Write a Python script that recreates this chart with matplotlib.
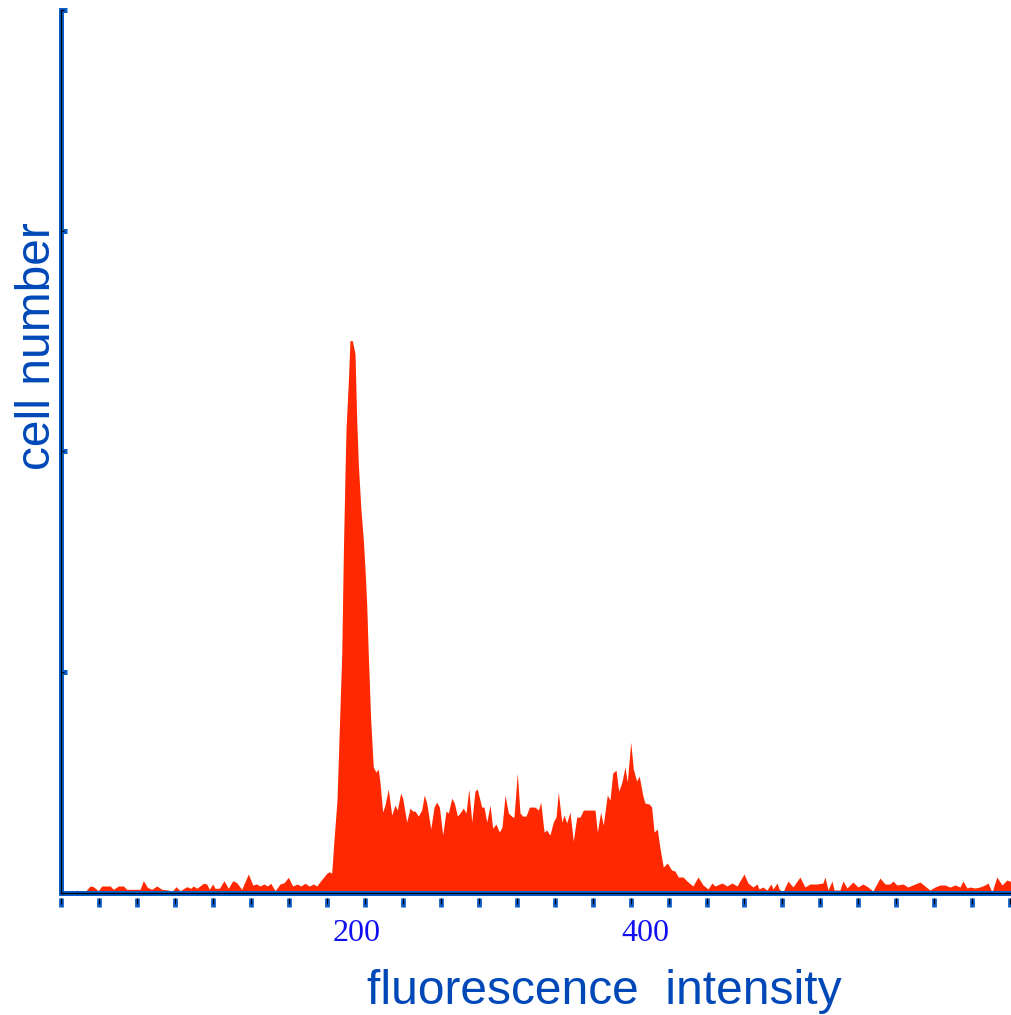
import numpy as np
import matplotlib
matplotlib.use("Agg")
import matplotlib.pyplot as plt

# ---------------- data ----------------
intensity = [
    -4.0, 4.2, 5.3, 7.6, 11.1, 14.6, 16.9, 20.3, 22.7, 28.5, 30.8, 34.2, 37.7, 40.1,
    49.3, 51.6, 54.4, 57.4, 60.9, 64.4, 69.0, 71.3, 74.3, 77.1, 81.7, 84.5, 86.3, 88.7,
    93.3, 95.6, 97.4, 99.8, 101.4, 104.4, 107.6, 110.6, 113.7, 116.5, 119.9, 124.5,
    127.6, 130.3, 132.6, 135.4, 137.7, 140.1, 143.1, 146.5, 149.3, 152.3, 155.3, 158.5,
    160.9, 163.9, 166.9, 169.7, 172.0, 174.8, 179.0, 180.8, 182.4,
    184.0, 186.1, 189.4, 190.5, 191.7, 192.4, 194.0, 195.1, 196.7, 198.6, 199.8, 200.9,
    202.6, 204.4, 205.6, 206.7, 207.8, 209.5, 211.3, 213.2, 214.8, 216.0, 217.8, 219.4,
    221.7, 224.1, 226.4, 228.0, 230.3, 231.7, 234.5, 236.8, 238.7, 240.3, 242.6, 244.9,
    246.7, 248.4, 251.2, 253.5, 255.3, 257.2, 259.5, 261.8, 263.4, 265.8, 267.6, 269.7,
    271.5, 273.8, 275.7, 277.6, 279.7, 281.9, 283.5, 286.6, 288.2, 290.1, 292.4, 294.2,
    296.5, 298.8, 300.7, 302.8, 305.1, 308.1, 309.0, 311.3, 313.2, 315.1, 317.4, 319.7,
    323.6, 326.0, 327.6, 329.9, 331.7, 334.0, 336.3, 338.2, 339.8, 342.2, 343.8, 345.6,
    347.9, 350.2, 352.6, 354.9, 357.2, 365.3, 366.9, 369.2, 371.0, 373.8, 375.7, 377.6,
    379.9, 381.7, 383.8, 386.1, 387.7, 390.1, 391.9, 394.2, 396.0, 398.4, 400.0, 403.0,
    404.6, 406.3, 408.5, 410.4, 412.7, 415.5, 418.5, 420.8, 423.1,
    426.4, 429.9, 433.3, 436.8, 440.3, 443.8, 446.5, 448.6, 453.5, 457.0, 460.4, 463.9,
    468.8, 471.5, 475.0, 477.8, 479.2, 481.9, 484.7, 487.5, 488.9, 491.7, 493.1, 495.8,
    499.3, 502.8, 507.6, 511.1, 514.6, 519.4, 523.6, 525.0, 527.1, 529.9, 531.3, 535.4,
    537.5, 540.3, 544.4, 547.9, 551.4, 554.9, 558.3, 563.2, 566.7, 570.1, 572.2, 575.0,
    579.2, 582.6, 587.5, 591.0, 594.4, 597.9, 601.4, 604.9, 608.3, 611.8, 615.3, 618.8,
    620.8, 623.6, 625.7, 629.2, 632.6, 636.1, 638.2, 641.0, 644.4, 647.9, 651.4, 654.9,
]
cell_number = [
    1.3, 1.3, 3, 1.3, 1.3, 7, 6.3, 2.3, 7, 7, 3.7, 7, 7, 3.7,
    3.7, 12.3, 5.7, 3.7, 7, 3.7, 3, 1.3, 6.3, 2.3, 6.3, 4.7, 7, 4.7,
    9.7, 9, 3.7, 9, 4.7, 4.7, 12.3, 4.7, 12.3, 10.3, 3.7, 19,
    8, 9, 7, 9, 7, 9.7, 2.3, 9, 10.3, 15.7, 7, 9,
    7, 9.7, 7, 9, 7, 12.3, 19.7, 21.3, 19.7,
    53, 93, 240, 340, 423, 466, 513, 553, 553, 540, 473, 430,
    386, 353, 323, 290, 240, 173, 126, 121, 124, 110, 81, 88,
    104, 78, 88, 83, 100, 95, 71, 85, 82, 82, 77, 83,
    98, 90, 64, 86, 91, 86, 58, 82, 80, 95, 90, 77,
    80, 85, 80, 104, 71, 102, 104, 86, 86, 71, 88, 65,
    69, 61, 66, 98, 80, 76, 76, 120, 80, 77, 77, 86,
    86, 83, 91, 61, 63, 58, 71, 76, 101, 71, 78, 70,
    81, 52, 76, 76, 83, 83, 61, 81, 68, 98, 93, 120,
    123, 102, 110, 126, 111, 151, 124, 112, 117, 98, 90, 89,
    86, 61, 64, 45, 26, 30, 23, 22, 16,
    16, 11, 7, 16, 8, 4, 10, 7, 10, 7, 10, 7,
    19, 10, 6, 9, 4, 6, 3, 9, 4, 10, 4, 1,
    12, 6, 16, 6, 9, 9, 10, 16, 3, 12, 3, 3,
    12, 5, 11, 6, 9, 6, 2, 15, 9, 9, 12, 8,
    9, 6, 9, 11, 7, 3, 6, 8, 8, 6, 8, 6,
    12, 5, 6, 5, 6, 8, 10, 1, 16, 8, 13, 11,
]
tick_values = [200, 400]
tick_labels = ["200", "400"]
x_label = "fluorescence  intensity"
y_label = "cell number"

# ---------------- styling ----------------
W, H, DPI = 1012, 1015, 100
SPINE_BLUE = "#0a5cc6"
TEXT_BLUE = "#0048b8"
TICK_TEXT_BLUE = "#1010f0"
FILL_RED = "#ff2800"

xlim = (-5.6, 654.9)
ylim = (0, 884)

fig = plt.figure(figsize=(W / DPI, H / DPI), dpi=DPI)
fig.patch.set_facecolor("white")

pos = [61 / W, (H - 893) / H, (W - 61) / W, 883 / H]
ax = fig.add_axes(pos)
ax.fill_between(intensity, cell_number, 0, color=FILL_RED, lw=0)
ax.set_xlim(*xlim)
ax.set_ylim(*ylim)

for s in ("top", "right"):
    ax.spines[s].set_visible(False)
for s in ("left", "bottom"):
    ax.spines[s].set_color(SPINE_BLUE)
    ax.spines[s].set_linewidth(3.6)
    ax.spines[s].set_zorder(3)

ax.set_yticks(np.linspace(ylim[0], ylim[1], 5))
ax.tick_params(axis="y", direction="in", length=4.3, width=3.6,
               color=SPINE_BLUE, labelleft=False)
ax.set_xticks(tick_values)
ax.set_xticklabels(tick_labels)
ax.tick_params(axis="x", length=0, pad=19, labelsize=23,
               labelcolor=TICK_TEXT_BLUE)
for t in ax.get_xticklabels():
    t.set_fontfamily("Liberation Serif")

# black core lines of the axes
axk = fig.add_axes(pos, zorder=5)
axk.set_xlim(*xlim)
axk.set_ylim(*ylim)
axk.patch.set_visible(False)
for s in ("top", "right"):
    axk.spines[s].set_visible(False)
for s in ("left", "bottom"):
    axk.spines[s].set_color("black")
    axk.spines[s].set_linewidth(0.9)
axk.set_yticks(np.linspace(ylim[0], ylim[1], 5))
axk.tick_params(axis="y", direction="in", length=2.3, width=0.9,
                color="black", labelleft=False)
axk.set_xticks([])

# small tick marks below the axis (slightly detached)
minor_pos = np.linspace(xlim[0], 653.7, 26)
post = [pos[0], pos[1] - 4.5 / H, pos[2], pos[3]]
axt = fig.add_axes(post, zorder=6)
axt.set_xlim(*xlim)
axt.set_ylim(*ylim)
axt.patch.set_visible(False)
for s in axt.spines.values():
    s.set_visible(False)
axt.set_yticks([])
axt.xaxis.remove_overlapping_locs = False
axt.set_xticks(minor_pos)
axt.set_xticks(minor_pos, minor=True)
axt.tick_params(axis="x", which="major", direction="out", length=6.3,
                width=3.4, color=SPINE_BLUE, labelbottom=False)
axt.tick_params(axis="x", which="minor", direction="out", length=4.3,
                width=0.8, color="black", labelbottom=False)

fig.text(604 / W, (H - 1004) / H, x_label, ha="center", va="baseline",
         fontsize=34.5, color=TEXT_BLUE, family="Liberation Sans")
fig.text(50 / W, (H - 346.5) / H, y_label, ha="center", va="baseline",
         rotation=90, rotation_mode="anchor",
         fontsize=34.5, color=TEXT_BLUE, family="Liberation Sans")

fig.savefig("out.png", dpi=DPI, facecolor="white")
